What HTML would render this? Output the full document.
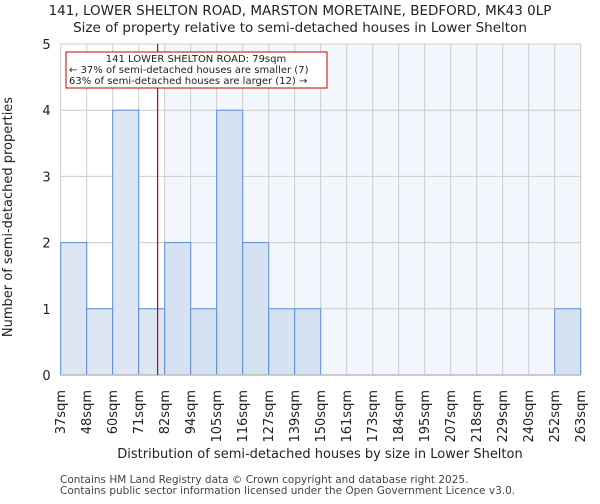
<!DOCTYPE html>
<html><head><meta charset="utf-8"><style>
body{margin:0;background:#fff;font-family:"DejaVu Sans","Liberation Sans",sans-serif}
svg text{font-family:"DejaVu Sans","Liberation Sans",sans-serif}
</style></head><body>
<svg id="c" width="600" height="500" xmlns="http://www.w3.org/2000/svg">
<text x="300" y="15" text-anchor="middle" font-size="13.5" fill="#222">141, LOWER SHELTON ROAD, MARSTON MORETAINE, BEDFORD, MK43 0LP</text>
<text x="300" y="32" text-anchor="middle" font-size="13.5" fill="#222">Size of property relative to semi-detached houses in Lower Shelton</text>
<g id="plot"></g>
<text x="320" y="458" text-anchor="middle" font-size="13" fill="#222">Distribution of semi-detached houses by size in Lower Shelton</text>
<text transform="translate(12,217) rotate(-90)" text-anchor="middle" font-size="13" fill="#222">Number of semi-detached properties</text>
<text x="60" y="483" font-size="10.5" fill="#444">Contains HM Land Registry data © Crown copyright and database right 2025.</text>
<text x="60" y="494" font-size="10.5" fill="#444">Contains public sector information licensed under the Open Government Licence v3.0.</text>
</svg>
<script>
const tickLabels=["37sqm","48sqm","60sqm","71sqm","82sqm","94sqm","105sqm","116sqm","127sqm","139sqm","150sqm","161sqm","173sqm","184sqm","195sqm","207sqm","218sqm","229sqm","240sqm","252sqm","263sqm"];
const counts=[2,1,4,1,2,1,4,2,1,1,0,0,0,0,0,0,0,0,0,1];
const yTicks=[0,1,2,3,4,5];
const subjectSize=79;
const subjectBin=3;
const NS="http://www.w3.org/2000/svg";
const g=document.getElementById('plot');
const X0=60.7,X1=580.7,Y0=375,Y1=44,yMax=5,n=counts.length,bw=(X1-X0)/n;
const xb=i=>X0+i*bw;
const y=v=>Y0-(v/yMax)*(Y0-Y1);
const sizeToX=s=>{for(let i=0;i<n;i++){const a=parseFloat(tickLabels[i]),b=parseFloat(tickLabels[i+1]);if(s>=a&&s<=b)return xb(i)+(s-a)/(b-a)*bw;}return X0;};
function mk(t,a){const e=document.createElementNS(NS,t);for(const k in a)e.setAttribute(k,a[k]);g.appendChild(e);return e;}
let r=mk('rect',{x:xb(subjectBin+1),y:Y1,width:X1-xb(subjectBin+1),height:Y0-Y1,fill:'#f3f6fd'});


for(let i=0;i<=n;i++){const l=mk('line',{x1:xb(i),x2:xb(i),y1:Y1,y2:Y0,stroke:'#ccc'});

}
yTicks.forEach(v=>{const l=mk('line',{x1:X0,x2:X1,y1:y(v),y2:y(v),stroke:'#ccc'});


const t=mk('text',{x:X0-10,y:y(v)+5,'text-anchor':'end','font-size':13,fill:'#222'});t.textContent=v;

});
counts.forEach((c,i)=>{if(!c)return;const b=mk('rect',{x:xb(i),y:y(c),width:bw,height:Y0-y(c),fill:i<=subjectBin?'#dde6f3':'#d6e1f2',stroke:'#5b8fd6','stroke-width':1});

});
tickLabels.forEach((s,i)=>{const t=mk('text',{transform:`translate(${xb(i)+4.5},390) rotate(-90)`,'text-anchor':'end','font-size':13,fill:'#222'});t.textContent=s;

});
const ax=mk('line',{x1:X0,x2:X1,y1:Y0,y2:Y0,stroke:'#bbb','stroke-width':1.5});


const mx=sizeToX(subjectSize);
const ml=mk('line',{x1:mx,x2:mx,y1:Y1,y2:Y0,stroke:'#c00','stroke-width':1.2});


const box=mk('rect',{x:66,y:52,width:261,height:36,fill:'#fff',stroke:'#c00'});


["141 LOWER SHELTON ROAD: 79sqm","← 37% of semi-detached houses are smaller (7)","63% of semi-detached houses are larger (12) →"].forEach((s,k)=>{const t=mk('text',{x:k==0?196:69,y:62+k*11,'text-anchor':k==0?'middle':'start','font-size':10,fill:'#222'});t.textContent=s;

});
</script>
</body></html>
